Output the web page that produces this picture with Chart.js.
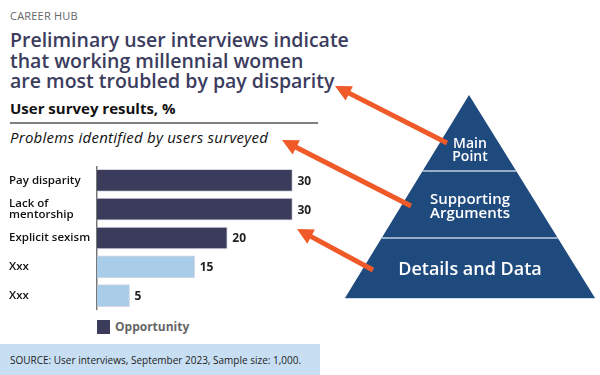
<!DOCTYPE html>
<html>
<head>
<meta charset="utf-8">
<script src="https://cdn.jsdelivr.net/npm/chart.js@4"></script>
<style>
  html, body { margin: 0; padding: 0; background: #fff; }
  body { width: 600px; height: 375px; position: relative; overflow: hidden; font-family: "Open Sans", sans-serif; }
  .abs { position: absolute; white-space: nowrap; }
  #kicker { left: 10px; top: 8px; font-size: 11px; color: #666; letter-spacing: 0.2px; }
  #title { left: 10px; top: 30px; font-size: 19.5px; line-height: 20.5px; font-weight: 600; color: #3b3c5e; }
  #subtitle { left: 10px; top: 98px; font-size: 15px; font-weight: 700; color: #111; }
  #rule { left: 10px; top: 122px; width: 308px; height: 2px; background: #808080; }
  #question { left: 10px; top: 127px; font-size: 15px; font-style: italic; color: #111; letter-spacing: 0.25px; }
  #chartWrap { left: 0; top: 166px; }
  #legend { left: 97px; top: 318px; font-size: 12px; font-weight: 700; color: #666; display: flex; align-items: center; }
  #legend span.sw { display: inline-block; width: 13px; height: 14px; background: #3b3b5c; margin-right: 5px; }
  #source { left: 0; top: 344px; width: 320px; height: 31px; background: #c8dff3; }
  #source div { position: absolute; left: 10px; top: 9px; font-size: 10px; color: #222; white-space: nowrap; }
  #overlay { position: absolute; left: 0; top: 0; }
</style>
</head>
<body>
<div class="abs" id="kicker">CAREER HUB</div>
<div class="abs" id="title">Preliminary user interviews indicate<br>that working millennial women<br>are most troubled by pay disparity</div>
<div class="abs" id="subtitle">User survey results, %</div>
<div class="abs" id="rule"></div>
<div class="abs" id="question">Problems identified by users surveyed</div>
<div class="abs" id="chartWrap"><canvas id="bars" width="330" height="144"></canvas></div>
<div class="abs" id="legend"><span class="sw"></span>Opportunity</div>
<div class="abs" id="source"><div>SOURCE: User interviews, September 2023, Sample size: 1,000.</div></div>
<svg id="overlay" width="600" height="375"></svg>

<script>
const categories = ["Pay disparity", ["Lack of", "mentorship"], "Explicit sexism", "Xxx", "Xxx"];
const values = [30, 30, 20, 15, 5];
const barColors = ["#3b3b5c", "#3b3b5c", "#3b3b5c", "#a9cde8", "#a9cde8"];
const pyramidLabels = [["Main", "Point"], ["Supporting", "Arguments"], ["Details and Data"]];

const valueLabels = {
    id: "valueLabels",
    afterDatasetsDraw(chart) {
        const ctx = chart.ctx;
        const meta = chart.getDatasetMeta(0);
        ctx.save();
        ctx.font = "700 12px 'Open Sans'";
        ctx.fillStyle = "#222";
        ctx.textBaseline = "middle";
        meta.data.forEach((bar, i) => {
            ctx.fillText(String(values[i]), bar.x + 5, bar.y + 1);
        });
        ctx.restore();
    }
};

new Chart(document.getElementById("bars"), {
    type: "bar",
    data: {
        labels: categories,
        datasets: [{
            data: values,
            backgroundColor: barColors,
            borderColor: "rgba(205,205,220,0.8)",
            borderWidth: 1,
            barThickness: 22
        }]
    },
    options: {
        indexAxis: "y",
        responsive: false,
        animation: false,
        layout: { padding: { left: 9, right: 5, top: 0, bottom: 0 } },
        plugins: { legend: { display: false }, tooltip: { enabled: false } },
        scales: {
            x: { display: false, min: 0, max: 35 },
            y: {
                grid: { display: false },
                border: { display: true, color: "#777", width: 1.5 },
                afterFit: (s) => { s.width = 88; s.paddingTop = 0; s.paddingBottom = 0; },
                ticks: {
                    crossAlign: "far",
                    padding: 4,
                    color: "#111",
                    font: { family: "Open Sans", size: 11.5, weight: "600", lineHeight: 0.95 }
                }
            }
        }
    },
    plugins: [valueLabels]
});

// pyramid + arrows
const svg = document.getElementById("overlay");
const NS = "http://www.w3.org/2000/svg";
const el = (tag, attrs, text) => {
    const n = document.createElementNS(NS, tag);
    for (const k in attrs) n.setAttribute(k, attrs[k]);
    if (text) n.textContent = text;
    svg.appendChild(n);
    return n;
};

const apex = [469, 95], baseY = 298, baseL = 345, baseR = 595;
el("polygon", { points: `${apex[0]},${apex[1]} ${baseR},${baseY} ${baseL},${baseY}`, fill: "#1f4a7d" });
const xAt = (y, side) => {
    const t = (y - apex[1]) / (baseY - apex[1]);
    return apex[0] + t * ((side < 0 ? baseL : baseR) - apex[0]);
};
[171, 238].forEach(y => {
    el("line", { x1: xAt(y, -1), y1: y, x2: xAt(y, 1), y2: y, stroke: "rgba(220,232,245,0.85)", "stroke-width": 1.5 });
});
el("line", { x1: baseL, y1: baseY + 0.5, x2: baseR, y2: baseY + 0.5, stroke: "rgba(200,215,235,0.9)", "stroke-width": 1 });

const textSpecs = [
    { lines: pyramidLabels[0], y: 142, size: 14, gap: 13 },
    { lines: pyramidLabels[1], y: 198, size: 15, gap: 14 },
    { lines: pyramidLabels[2], y: 268, size: 18, gap: 0 }
];
textSpecs.forEach(s => {
    s.lines.forEach((ln, i) => {
        el("text", {
            x: 470, y: s.y + i * s.gap, fill: "#fff", "text-anchor": "middle", "dominant-baseline": "central",
            "font-family": "Open Sans", "font-weight": 600, "font-size": s.size
        }, ln);
    });
});

const arrows = [[447, 143, 335, 86], [411, 206, 282, 140], [373, 270, 297, 229]];
arrows.forEach(([x1, y1, x2, y2]) => {
    const dx = x2 - x1, dy = y2 - y1, len = Math.hypot(dx, dy);
    const ux = dx / len, uy = dy / len;
    const hl = 16, hw = 8;
    const bx = x2 - ux * hl, by = y2 - uy * hl;
    el("line", { x1, y1, x2: x2 - ux * (hl - 3), y2: y2 - uy * (hl - 3), stroke: "#f05a28", "stroke-width": 5 });
    el("polygon", {
        points: `${x2},${y2} ${bx - uy * hw},${by + ux * hw} ${bx + uy * hw},${by - ux * hw}`,
        fill: "#f05a28"
    });
});
</script>
</body>
</html>
